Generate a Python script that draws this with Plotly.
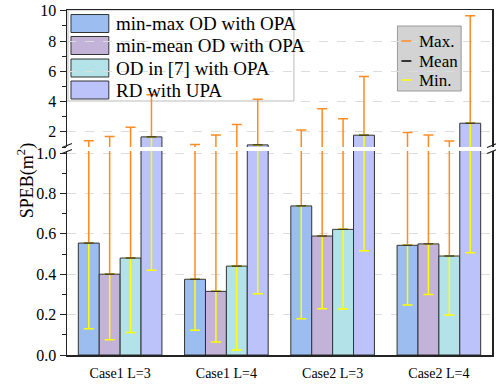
import plotly.graph_objects as go

# ---------------- data ----------------
categories = ["Case1 L=3", "Case1 L=4", "Case2 L=3", "Case2 L=4"]
series_names = ["min-max OD with OPA", "min-mean OD with OPA", "OD in [7] with OPA", "RD with UPA"]

mean_minmax = [0.554, 0.375, 0.738, 0.543]
mean_minmean = [0.400, 0.315, 0.589, 0.550]
mean_od7 = [0.480, 0.440, 0.622, 0.490]
mean_rd = [1.67, 1.14, 1.78, 2.57]

max_minmax = [1.41, 1.16, 2.13, 1.96]
max_minmean = [1.69, 1.80, 3.52, 1.80]
max_od7 = [2.31, 2.48, 2.86, 1.40]
max_rd = [4.45, 4.15, 5.65, 9.67]

min_minmax = [0.130, 0.122, 0.180, 0.247]
min_minmean = [0.076, 0.064, 0.229, 0.300]
min_od7 = [0.112, 0.025, 0.228, 0.198]
min_rd = [0.419, 0.303, 0.516, 0.506]

legend2_labels = ["Max.", "Mean", "Min."]

# ---------------- styles ----------------
colors = ["#9CBDF0", "#C3B3D8", "#B3E3E8", "#BBC3FA"]
ORANGE = "#FF8C21"
YELLOW = "#FFFF00"
FONT = "Liberation Serif, Times New Roman, serif"
AX = "#222222"

means = [mean_minmax, mean_minmean, mean_od7, mean_rd]
maxs = [max_minmax, max_minmean, max_od7, max_rd]
mins = [min_minmax, min_minmean, min_od7, min_rd]

fig = go.Figure()
for k in range(4):
    m, mx, mn = means[k], maxs[k], mins[k]
    up = [a - b for a, b in zip(mx, m)]
    down = [b - a for a, b in zip(mn, m)]
    zeros = [0] * len(m)
    for xa, ya in (("x", "y"), ("x2", "y2")):
        fig.add_trace(go.Bar(
            x=categories, y=m, name=series_names[k], offsetgroup=str(k),
            marker=dict(color=colors[k], line=dict(color="#333333", width=1)),
            error_y=dict(type="data", symmetric=False, array=up, arrayminus=zeros,
                         color=ORANGE, thickness=1.5, width=5),
            xaxis=xa, yaxis=ya, showlegend=False, hoverinfo="skip"))
        fig.add_trace(go.Bar(
            x=categories, y=m, offsetgroup=str(k),
            marker=dict(color="rgba(0,0,0,0)", line=dict(width=0)),
            error_y=dict(type="data", symmetric=False, array=zeros, arrayminus=down,
                         color=YELLOW, thickness=1.5, width=5),
            xaxis=xa, yaxis=ya, showlegend=False, hoverinfo="skip"))
        fig.add_trace(go.Bar(
            x=categories, y=m, offsetgroup=str(k),
            marker=dict(color="rgba(0,0,0,0)", line=dict(width=0)),
            error_y=dict(type="data", symmetric=False, array=zeros, arrayminus=zeros,
                         color="#333333", thickness=1, width=5),
            xaxis=xa, yaxis=ya, showlegend=False, hoverinfo="skip"))

# pixel geometry helpers (plot area: x 67..494, y 10..355)
L, R, T, B = 67, 494, 10, 355
W, H = R - L, B - T
def pxp(x):
    return (x - L) / W
def pyp(y):
    return (B - y) / H
# upper-axis data coordinates from pixels
def ux(x):
    return -0.5 + (x - L) / (W / 4)
def uy(y):
    return 1 + (147 - y) / 15.14

shapes = []
annotations = []

# legend 1 (series)
shapes.append(dict(type="rect", xref="x2", yref="y2", x0=ux(68), x1=ux(295), y0=uy(101), y1=10.05,
                   fillcolor="white", line=dict(color="#BBBBBB", width=1), layer="below"))
rows1 = [23.5, 45.5, 68, 90]
for k in range(4):
    c = rows1[k]
    shapes.append(dict(type="rect", xref="x2", yref="y2", x0=ux(71), x1=ux(109), y0=uy(c + 9), y1=uy(c - 9),
                       fillcolor=colors[k], line=dict(color="#333333", width=1), layer="below"))
    annotations.append(dict(xref="paper", yref="paper", x=pxp(114), y=pyp(c), xanchor="left", yanchor="middle",
                            text=series_names[k], showarrow=False, font=dict(family=FONT, size=19, color="black")))

# legend 2 (error bar meanings)
shapes.append(dict(type="rect", xref="x2", yref="y2", x0=ux(399), x1=ux(463), y0=uy(91), y1=uy(26),
                   fillcolor="#D3D3D3", line=dict(color="#999999", width=1), layer="below"))
rows2 = [41, 61, 80]
lcols = [ORANGE, "black", YELLOW]
for k in range(3):
    c = rows2[k]
    shapes.append(dict(type="line", xref="paper", yref="paper", x0=pxp(403), x1=pxp(413), y0=pyp(c), y1=pyp(c),
                       line=dict(color=lcols[k], width=1.5)))
    annotations.append(dict(xref="paper", yref="paper", x=pxp(419), y=pyp(c), xanchor="left", yanchor="middle",
                            text=legend2_labels[k], showarrow=False, font=dict(family=FONT, size=17, color="black")))

# break marks on both sides
for xb in (L, R):
    for yb in (145.5, 151.5):
        shapes.append(dict(type="line", xref="paper", yref="paper", x0=pxp(xb - 5), x1=pxp(xb + 5),
                           y0=pyp(yb + 2), y1=pyp(yb - 2), line=dict(color=AX, width=1.2)))

# y axis title
annotations.append(dict(xref="paper", yref="paper", x=pxp(26), y=pyp(181), xanchor="center", yanchor="middle",
                        text="SPEB(m<sup>2</sup>)", textangle=-90, showarrow=False,
                        font=dict(family=FONT, size=18, color="black")))

tickfont = dict(family=FONT, size=16, color="black")
common_y = dict(showgrid=True, gridcolor="#DDDDDD", griddash="dash", gridwidth=1,
                showline=True, linecolor=AX, linewidth=1.5, mirror=True,
                ticks="outside", ticklen=6, tickcolor=AX, tickwidth=1,
                zeroline=False, tickfont=tickfont)

fig.update_layout(
    width=496, height=384,
    margin=dict(l=L, r=496 - R, t=T, b=384 - B),
    paper_bgcolor="white", plot_bgcolor="white",
    barmode="group", bargap=0.213, bargroupgap=0,
    showlegend=False,
    font=dict(family=FONT, color="black"),
    xaxis=dict(type="category", range=[-0.5, 3.5], anchor="y", showline=True, linecolor=AX, linewidth=1.5,
               ticks="outside", ticklen=5, tickcolor="rgba(0,0,0,0)", showgrid=False,
               tickfont=dict(family=FONT, size=14, color="black")),
    xaxis2=dict(matches="x", anchor="y2", side="top", showline=True, linecolor=AX, linewidth=1.5,
                showticklabels=False, ticks="", showgrid=False),
    yaxis=dict(domain=[0, (B - 151) / H], range=[0, 204 / 202], dtick=0.2, tick0=0, tickformat=".1f",
               minor=dict(dtick=0.1, ticks="outside", ticklen=4, tickcolor=AX, showgrid=False),
               **common_y),
    yaxis2=dict(domain=[(B - 147) / H, 1], range=[1, 10.05], dtick=2, tick0=0,
                minor=dict(dtick=1, ticks="outside", ticklen=4, tickcolor=AX, showgrid=False),
                **common_y),
    shapes=shapes, annotations=annotations,
)

fig.write_html("out.html", config={"displayModeBar": False, "staticPlot": True},
               post_script="document.body.style.margin='0';document.body.style.padding='0';")
